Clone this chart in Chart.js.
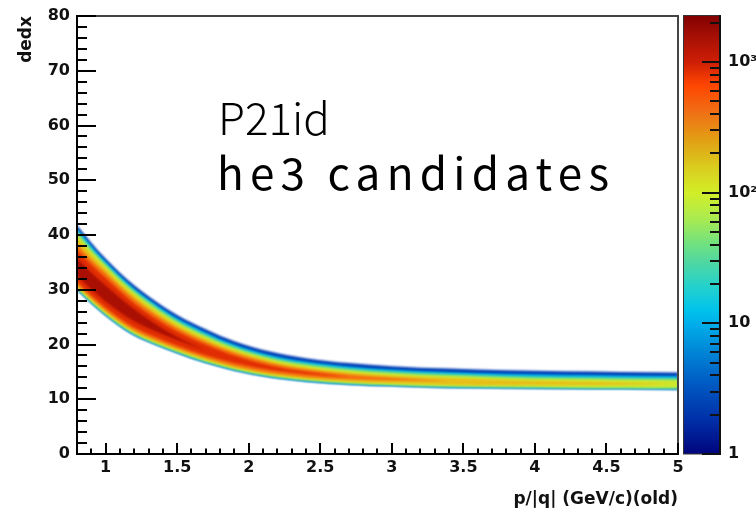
<!DOCTYPE html>
<html><head><meta charset="utf-8">
<script src="https://cdn.jsdelivr.net/npm/chart.js@4.4.1/dist/chart.umd.min.js"></script>
<style>html,body{margin:0;padding:0;background:#fff;}#wrap{width:756px;height:511px;}</style>
</head><body><div id="wrap"><canvas id="c" width="756" height="511"></canvas></div>
<script>
// ---------------- data ----------------
const pGrid = [0.8, 0.9, 1.0, 1.1, 1.2, 1.35, 1.5, 1.7, 1.9, 2.15, 2.4, 2.7, 3.0, 3.4, 3.8, 4.2, 4.6, 5.0];

// dE/dx ranges [low, high] where the bin content is at least levelCounts[k]
const levelCounts = [1, 6, 25, 80, 180, 400, 800, 1500];
const level1 = [[30.0,41.8],[27.55,38.6],[25.3,35.7],[23.35,33.1],[21.7,30.8],[19.95,27.9],[18.45,25.4],[16.65,22.8],[15.25,20.6],[14.0,18.7],[13.25,17.5],[12.7,16.6],[12.4,16.05],[12.1,15.6],[12.0,15.3],[11.9,15.1],[11.85,15.0],[11.8,14.9]];
const level2 = [[30.0,41.25],[27.55,38.05],[25.3,35.15],[23.35,32.55],[21.7,30.25],[19.95,27.35],[18.45,24.82],[16.65,22.20],[15.25,20.00],[14.0,18.10],[13.25,16.90],[12.7,15.98],[12.4,15.43],[12.1,14.96],[12.0,14.66],[11.9,14.46],[11.85,14.36],[11.8,14.26]];
const level3 = [[30.18,40.80],[27.73,37.60],[25.48,34.79],[23.53,32.19],[21.88,29.89],[20.11,26.99],[18.61,24.45],[16.81,21.83],[15.41,19.63],[14.16,17.73],[13.41,16.53],[12.85,15.61],[12.55,15.06],[12.25,14.60],[12.15,14.26],[12.05,14.04],[12.00,13.94],[11.95,13.84]];
const level4 = [[30.37,40.16],[27.92,37.05],[25.67,34.33],[23.72,31.73],[22.07,29.43],[20.28,26.53],[18.78,24.03],[16.98,21.43],[15.58,19.27],[14.33,17.37],[13.58,16.17],[13.01,15.25],[12.71,14.70],[12.41,14.23],[12.31,13.89],[12.21,13.68],[12.16,13.58],[12.11,13.48]];
const level5 = [[30.58,39.43],[28.13,36.41],[25.88,33.78],[23.93,31.18],[22.28,28.97],[20.50,26.07],[19.00,23.57],[17.20,21.01],[15.76,18.90],[14.51,17.00],[13.76,15.80],[13.21,14.88],[12.91,14.33],[12.65,13.87],[12.55,13.53],[12.54,13.27],[12.62,13.08],[12.85,12.85]];
const level6 = [[30.91,38.33],[28.46,35.50],[26.21,33.05],[24.26,30.54],[22.61,28.33],[20.83,25.43],[19.33,23.03],[17.53,20.52],[16.07,18.50],[14.82,16.64],[14.07,15.44],[13.61,14.50],[13.41,13.91],[13.30,13.30],null,null,null,null];
const level7 = [[31.46,37.23],[29.01,34.58],[26.76,32.14],[24.81,29.72],[23.16,27.51],[21.38,24.70],[19.82,22.39],[18.02,19.97],[16.62,17.95],[15.37,16.14],[14.62,15.03],[14.05,14.05],null,null,null,null,null,null];
const level8 = [[32.56,35.77],[30.11,33.12],[27.86,30.77],[25.91,28.53],[24.26,26.42],[22.42,23.70],[20.82,21.38],[18.90,18.90],null,null,null,null,null,null,null,null,null,null];

const xTickValues = [1, 1.5, 2, 2.5, 3, 3.5, 4, 4.5, 5];
const xTickLabels = ['1', '1.5', '2', '2.5', '3', '3.5', '4', '4.5', '5'];
const yTickValues = [0, 10, 20, 30, 40, 50, 60, 70, 80];
const yTickLabels = ['0', '10', '20', '30', '40', '50', '60', '70', '80'];
const zTickValues = [1, 10, 100, 1000];
const zTickLabels = ['1', '10', '10²', '10³'];
const zMax = 2244;
const axisTitles = ['p/|q| (GeV/c)(old)', 'dedx'];
const annotations = ['P21id', 'he3 candidates'];

// ---------------- styling ----------------
const levelColors = ['rgb(0,60,180)','rgb(0,180,235)','rgb(105,220,140)','rgb(205,235,45)','rgb(232,190,25)','rgb(245,110,15)','rgb(225,45,3)','rgb(170,15,3)'];
const PAL = [[0,[0,5,125]],[0.28,[0,50,170]],[0.54,[0,90,195]],[0.79,[0,135,215]],[1.0,[0,175,235]],[1.1,[0,195,235]],[1.3,[40,210,200]],[1.47,[80,215,160]],[1.6,[110,225,130]],[1.8,[170,235,80]],[2.0,[210,238,40]],[2.19,[218,205,30]],[2.4,[225,160,20]],[2.62,[240,110,20]],[2.82,[255,70,0]],[3.0,[205,30,5]],[3.2,[165,15,5]],[3.36,[128,0,0]]];
function palette(l) {
  if (l <= PAL[0][0]) return 'rgb(' + PAL[0][1].join(',') + ')';
  for (let i = 1; i < PAL.length; i++) {
    if (l <= PAL[i][0]) {
      const [a, ca] = PAL[i-1], [b, cb] = PAL[i];
      const t = (l - a) / (b - a);
      return 'rgb(' + ca.map((c, j) => Math.round(c + (cb[j] - c) * t)).join(',') + ')';
    }
  }
  return 'rgb(' + PAL[PAL.length-1][1].join(',') + ')';
}

const levels = [level1, level2, level3, level4, level5, level6, level7, level8];
const datasets = [];
levels.forEach((lv, k) => {
  const pts = pGrid.map((x, i) => lv[i] ? {x, lo: lv[i][0], hi: lv[i][1]} : null).filter(Boolean);
  const common = {borderColor: 'transparent', borderWidth: 0, pointRadius: 0, pointHoverRadius: 0, cubicInterpolationMode: 'monotone', order: 20 - k, label: 'counts >= ' + levelCounts[k]};
  datasets.push(Object.assign({data: pts.map(p => ({x: p.x, y: p.hi})), fill: '+1', backgroundColor: levelColors[k]}, common));
  datasets.push(Object.assign({data: pts.map(p => ({x: p.x, y: p.lo})), fill: false, backgroundColor: levelColors[k]}, common));
});

const FONT = 'DejaVu Sans';
const tickFont = {family: FONT, size: 16, weight: 'bold'};
const titleFont = {family: FONT, size: 17, weight: 'bold'};
function noPad(s) { s.paddingTop = 0; s.paddingBottom = 0; s.paddingLeft = 0; s.paddingRight = 0; }

const histPlugin = {
  id: 'hist',
  beforeDatasetsDraw(chart) { chart.ctx.save(); chart.ctx.filter = 'blur(0.8px)'; },
  afterDatasetsDraw(chart) {
    const ctx = chart.ctx;
    ctx.restore();
    ctx.save();
    ctx.filter = 'none';
    const {left, right, top, bottom} = chart.chartArea;
    const xs = chart.scales.x, ys = chart.scales.y, zs = chart.scales.z;
    // frame
    ctx.lineWidth = 2;
    ctx.strokeStyle = '#444';
    ctx.beginPath(); ctx.moveTo(left, top); ctx.lineTo(right, top); ctx.lineTo(right, bottom); ctx.stroke();
    ctx.strokeStyle = '#000';
    ctx.beginPath(); ctx.moveTo(left, top - 1); ctx.lineTo(left, bottom); ctx.lineTo(right + 1, bottom); ctx.stroke();
    // y ticks (inward)
    for (let v = ys.min; v <= ys.max + 1e-9; v += 2) {
      const py = Math.round(ys.getPixelForValue(v));
      const len = (v % 10 === 0) ? 19 : 10;
      ctx.beginPath(); ctx.moveTo(left, py); ctx.lineTo(left + len, py); ctx.stroke();
    }
    // x ticks (inward)
    for (let i = Math.round(xs.min * 10); i <= Math.round(xs.max * 10); i++) {
      const px = Math.round(xs.getPixelForValue(i / 10));
      const len = (i % 5 === 0) ? 11 : 5.5;
      ctx.beginPath(); ctx.moveTo(px, bottom); ctx.lineTo(px, bottom - len); ctx.stroke();
    }
    // colour bar
    const x0 = right + 5, x1 = right + 42;
    for (let py = Math.floor(zs.top) - 1; py < zs.bottom; py++) {
      const v = zs.getValueForPixel(py + 0.5);
      ctx.fillStyle = palette(Math.log10(Math.max(v, 1)));
      ctx.fillRect(x0, py, x1 - x0, 1);
    }
    ctx.lineWidth = 1;
    ctx.strokeStyle = '#333';
    ctx.strokeRect(x0 + 0.5, zs.top - 0.5, x1 - x0 - 1, zs.bottom - zs.top + 0.5);
    ctx.lineWidth = 2; ctx.strokeStyle = '#111';
    ctx.beginPath(); ctx.moveTo(x1, zs.top - 1); ctx.lineTo(x1, zs.bottom + 1); ctx.stroke();
    for (let d = 1; d <= zMax; d *= 10) {
      for (let m = 1; m <= 9; m++) {
        const v = d * m;
        if (v > zMax) break;
        const py = Math.round(zs.getPixelForValue(v));
        const len = m === 1 ? 18 : 10;
        ctx.beginPath(); ctx.moveTo(x1, py); ctx.lineTo(x1 - len, py); ctx.stroke();
      }
    }
    ctx.restore();
  },
  afterDraw(chart) {
    const ctx = chart.ctx;
    ctx.save();
    ctx.fillStyle = '#000';
    ctx.textBaseline = 'alphabetic';
    ctx.textAlign = 'left';
    ctx.font = '300 44px "Noto Sans CJK SC"';
    ctx.fillText(annotations[0], 218, 135);
    ctx.font = '400 44px "Noto Sans CJK SC"';
    ctx.letterSpacing = '0px';
    const w0 = ctx.measureText(annotations[1]).width;
    const n = annotations[1].length;
    const sp = Math.max(0, (392 - w0) / (n - 1));
    ctx.letterSpacing = sp.toFixed(2) + 'px';
    ctx.fillText(annotations[1], 217, 190);
    ctx.restore();
  }
};

Chart.defaults.font.family = FONT;
new Chart(document.getElementById('c').getContext('2d'), {
  type: 'line',
  data: {datasets},
  options: {
    responsive: false,
    animation: false,
    devicePixelRatio: 1,
    layout: {padding: {top: 16, left: 0, right: 0, bottom: 0}},
    plugins: {legend: {display: false}, tooltip: {enabled: false}},
    scales: {
      x: {
        type: 'linear', position: 'bottom', min: 0.8, max: 5,
        grid: {display: false, drawTicks: false}, border: {display: false},
        afterBuildTicks: s => { s.ticks = xTickValues.map(v => ({value: v})); },
        afterFit: s => { s.height = 57; noPad(s); },
        ticks: {autoSkip: false, maxRotation: 0, minRotation: 0, padding: 4, color: '#111', font: tickFont, callback: (v, i) => xTickLabels[i]},
        title: {display: true, text: axisTitles[0], align: 'end', color: '#111', font: titleFont, padding: {top: 0, bottom: 1}}
      },
      y: {
        type: 'linear', position: 'left', min: 0, max: 80,
        grid: {display: false, drawTicks: false}, border: {display: false},
        afterBuildTicks: s => { s.ticks = yTickValues.map(v => ({value: v})); },
        afterFit: s => { s.width = 77; noPad(s); },
        ticks: {autoSkip: false, padding: 7, color: '#111', font: tickFont, callback: (v, i) => yTickLabels[i]},
        title: {display: true, text: axisTitles[1], align: 'end', color: '#111', font: titleFont, padding: {top: 16, bottom: 0}}
      },
      z: {
        type: 'logarithmic', position: 'right', min: 1, max: zMax,
        grid: {display: false, drawTicks: false}, border: {display: false},
        afterBuildTicks: s => { s.ticks = zTickValues.map(v => ({value: v})); },
        afterFit: s => { s.width = 78; noPad(s); },
        ticks: {autoSkip: false, padding: 50, color: '#111', font: tickFont, callback: (v, i) => zTickLabels[i]}
      }
    }
  },
  plugins: [histPlugin]
});
</script>
</body></html>
